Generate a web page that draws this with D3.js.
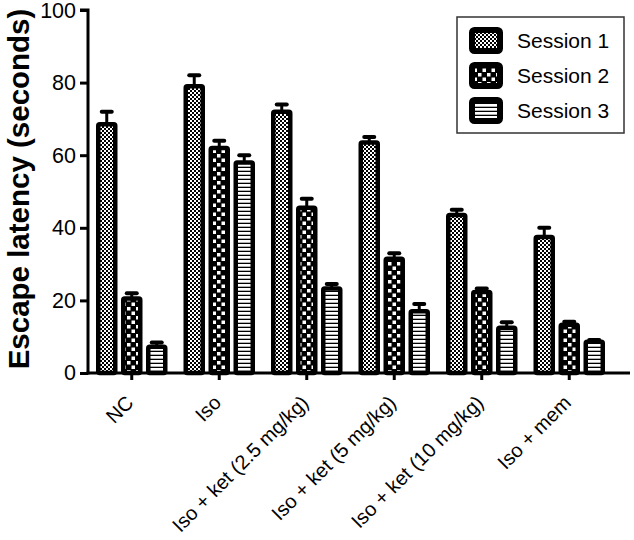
<!DOCTYPE html>
<html><head><meta charset="utf-8">
<script src="https://cdn.jsdelivr.net/npm/d3@7"></script>
<style>
html,body{margin:0;padding:0;background:#fff;}
svg{display:block;font-family:"Liberation Sans",Arial,Helvetica,sans-serif;}
</style></head>
<body><svg id="chart" width="634" height="540"></svg>
<script>
const categories = ["NC","Iso","Iso + ket (2.5 mg/kg)","Iso + ket (5 mg/kg)","Iso + ket (10 mg/kg)","Iso + mem"];
const sessions = ["Session 1","Session 2","Session 3"];
const session1 = [68.5, 79, 72, 63.5, 43.5, 37.5];
const session1Err = [3.5, 3, 2, 1.5, 1.5, 2.5];
const session2 = [20.5, 62, 45.5, 31.5, 22.3, 13.3];
const session2Err = [1.5, 2, 2.5, 1.5, 1, 0.8];
const session3 = [7.2, 58, 23.3, 17, 12.5, 8.6];
const session3Err = [1.2, 2, 1.2, 2, 1.5, 0.5];
const yTicks = [0,20,40,60,80,100];

const values = [session1, session2, session3];
const errs = [session1Err, session2Err, session3Err];

const svg = d3.select("#chart");
const defs = svg.append("defs");
// patterns
const p1 = defs.append("pattern").attr("id","pat0").attr("patternUnits","userSpaceOnUse").attr("width",4).attr("height",4);
p1.append("rect").attr("width",4).attr("height",4).attr("fill","#fff");
p1.append("rect").attr("width",2).attr("height",2).attr("fill","#000");
p1.append("rect").attr("x",2).attr("y",2).attr("width",2).attr("height",2).attr("fill","#000");
const p2 = defs.append("pattern").attr("id","pat1").attr("patternUnits","userSpaceOnUse").attr("width",9).attr("height",9);
p2.append("rect").attr("width",9).attr("height",9).attr("fill","#000");
p2.append("rect").attr("x",1).attr("y",1).attr("width",3.5).attr("height",3.5).attr("fill","#fff");
p2.append("rect").attr("x",5.5).attr("y",5.5).attr("width",3.5).attr("height",3.5).attr("fill","#fff");
const p3 = defs.append("pattern").attr("id","pat2").attr("patternUnits","userSpaceOnUse").attr("width",4).attr("height",4);
p3.append("rect").attr("width",4).attr("height",4).attr("fill","#fff");
p3.append("rect").attr("y",2.7).attr("width",4).attr("height",1.3).attr("fill","#000");

const x0 = d3.scaleBand().domain(categories).range([88, 613]).padding(0);
const x1 = d3.scaleBand().domain(sessions).range([-37.5, 37.5]).padding(0);
const y = d3.scaleLinear().domain([0,100]).range([373, 10]);

// bars
const g = svg.append("g");
categories.forEach((c, i) => {
  const cx = x0(c) + x0.bandwidth()/2;
  sessions.forEach((s, j) => {
    const v = values[j][i], e = errs[j][i];
    const bx = cx + x1(s) + 4;
    const bw = x1.bandwidth() - 8;
    const mid = bx + bw/2;
    // error bar
    g.append("line").attr("x1",mid).attr("x2",mid).attr("y1",y(v)).attr("y2",y(v+e))
      .attr("stroke","#000").attr("stroke-width",3);
    g.append("line").attr("x1",mid-5).attr("x2",mid+5).attr("y1",y(v+e)).attr("y2",y(v+e))
      .attr("stroke","#000").attr("stroke-width",4).attr("stroke-linecap","round");
    g.append("rect").attr("x",bx).attr("y",y(v)).attr("width",bw).attr("height",y(0)-y(v))
      .attr("fill",`url(#pat${j})`).attr("stroke","#000").attr("stroke-width",4.5)
      .attr("rx",1.5);
  });
});

// y axis
const yAxis = d3.axisLeft(y).tickValues(yTicks).tickSize(8).tickPadding(4).tickFormat(d3.format("d"));
const ya = svg.append("g").attr("transform","translate(88,0)").call(yAxis);
ya.select(".domain").attr("stroke-width",3).attr("d","M-8,10H0V374.5");
ya.selectAll(".tick line").attr("stroke-width",3);
ya.selectAll(".tick text").attr("font-size",21.5).attr("fill","#000").attr("font-family","Liberation Sans, Arial, sans-serif");
ya.selectAll(".tick text").filter(d => d === 100).attr("dy","0.36em");

// x axis
const xa = svg.append("g").attr("transform","translate(0,373)");
xa.append("line").attr("x1",86.5).attr("x2",630).attr("y1",0).attr("y2",0).attr("stroke","#000").attr("stroke-width",3);
categories.forEach(c => {
  const cx = x0(c) + x0.bandwidth()/2;
  xa.append("line").attr("x1",cx).attr("x2",cx).attr("y1",0).attr("y2",7).attr("stroke","#000").attr("stroke-width",3);
  xa.append("text").attr("transform",`translate(${cx+3},${31}) rotate(-45)`)
    .attr("text-anchor","end").attr("font-size",20).attr("fill","#000").text(c);
});

// y title
svg.append("text").attr("transform","translate(29,189) rotate(-90)")
  .attr("text-anchor","middle").attr("font-weight","bold").attr("font-size",29.5).attr("fill","#000")
  .text("Escape latency (seconds)");

// legend
const lg = svg.append("g");
lg.append("rect").attr("x",457).attr("y",17).attr("width",167).attr("height",116)
  .attr("fill","#fff").attr("stroke","#333").attr("stroke-width",1.5);
sessions.forEach((s, j) => {
  const ry = 27 + j*35;
  lg.append("rect").attr("x",472).attr("y",ry+3).attr("width",28).attr("height",21)
    .attr("fill",`url(#pat${j})`).attr("stroke","#000").attr("stroke-width",6).attr("rx",2.5);
  lg.append("text").attr("x",517).attr("y",ry+21).attr("font-size",21).attr("fill","#000").text(s);
});
</script></body></html>
